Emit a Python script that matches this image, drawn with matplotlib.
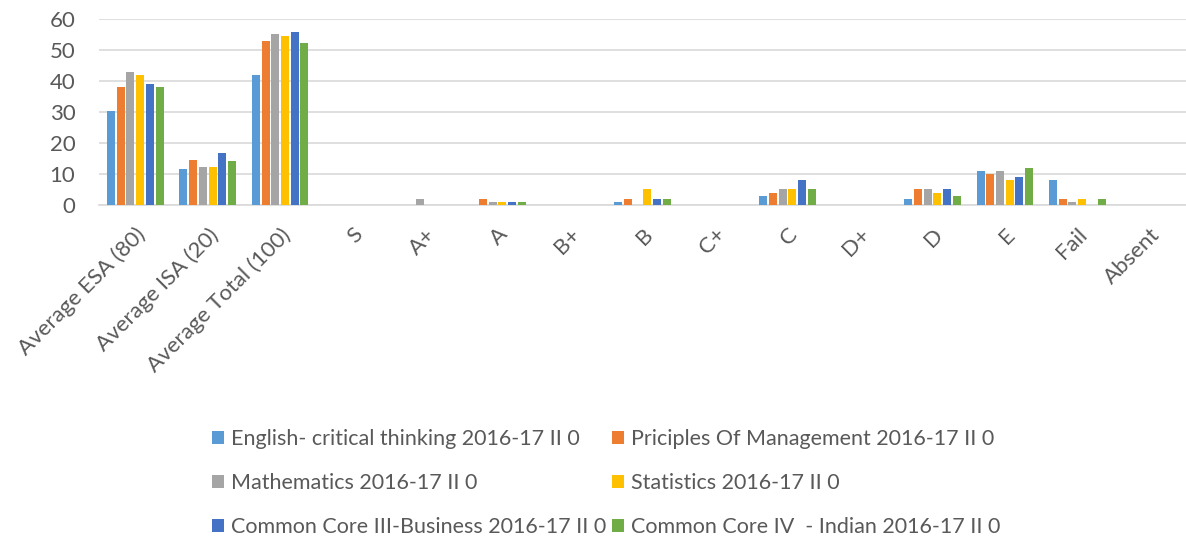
import numpy as np
import matplotlib.pyplot as plt

plt.rcParams['font.family'] = ['Lato', 'DejaVu Sans']

# Categories and series values.
categories = ['Average ESA (80)', 'Average ISA (20)', 'Average Total (100)', 'S', 'A+', 'A',
              'B+', 'B', 'C+', 'C', 'D+', 'D', 'E', 'Fail', 'Absent']
series_names = ['English- critical thinking 2016-17 II 0',
                'Priciples Of Management 2016-17 II 0',
                'Mathematics 2016-17 II 0',
                'Statistics 2016-17 II 0',
                'Common Core III-Business 2016-17 II 0',
                'Common Core IV  - Indian 2016-17 II 0']
english = [30.2, 11.5, 41.8, 0, 0, 0, 0, 1, 0, 3, 0, 2, 11, 8, 0]
management = [38.0, 14.6, 52.9, 0, 0, 2, 0, 2, 0, 4, 0, 5, 10, 2, 0]
mathematics = [42.9, 12.2, 55.2, 0, 2, 1, 0, 0, 0, 5, 0, 5, 11, 1, 0]
statistics = [41.8, 12.4, 54.4, 0, 0, 1, 0, 5, 0, 5, 0, 4, 8, 2, 0]
business = [39.0, 16.7, 55.9, 0, 0, 1, 0, 2, 0, 8, 0, 5, 9, 0, 0]
indian = [38.0, 14.2, 52.4, 0, 0, 1, 0, 2, 0, 5, 0, 3, 12, 2, 0]
colors = ['#5B9BD5', '#ED7D31', '#A5A5A5', '#FFC000', '#4472C4', '#70AD47']

all_series = [english, management, mathematics, statistics, business, indian]

fig = plt.figure(figsize=(11.86, 5.42), dpi=100)
ax = fig.add_axes([0.0835, 0.6218, 0.9165, 0.343])

x = np.arange(len(categories))
step = 0.134
width = 0.11
handles = []
for i, (vals, name, c) in enumerate(zip(all_series, series_names, colors)):
    h = ax.bar(x + (i - 2.5) * step, vals, width, color=c, label=name, zorder=3)
    handles.append(h)

ax.set_xlim(-0.5, len(categories) - 0.5)
ax.set_ylim(0, 60)
ax.set_yticks(range(0, 61, 10))
ax.yaxis.grid(True, color='#d9d9d9', linewidth=1.2, zorder=0)
for s in ['top', 'right', 'left']:
    ax.spines[s].set_visible(False)
ax.spines['bottom'].set_color('#d9d9d9')
ax.spines['bottom'].set_linewidth(1.2)
ax.tick_params(axis='both', length=0, labelsize=16, labelcolor='#595959')
ax.tick_params(axis='y', pad=17)
ax.set_xticks(x)
ax.set_xticklabels(categories, rotation=45, ha='right', rotation_mode='anchor')
ax.tick_params(axis='x', pad=14)

order = [0, 2, 4, 1, 3, 5]
fig.legend([handles[i] for i in order], [series_names[i] for i in order],
           ncol=2, loc='upper left', bbox_to_anchor=(0.170, 0.228),
           frameon=False, fontsize=15.5, labelcolor='#595959',
           handlelength=0.55, handleheight=0.55, handletextpad=0.3,
           columnspacing=0.3, labelspacing=1.12, borderpad=0)

fig.savefig('out.png', dpi=100)
